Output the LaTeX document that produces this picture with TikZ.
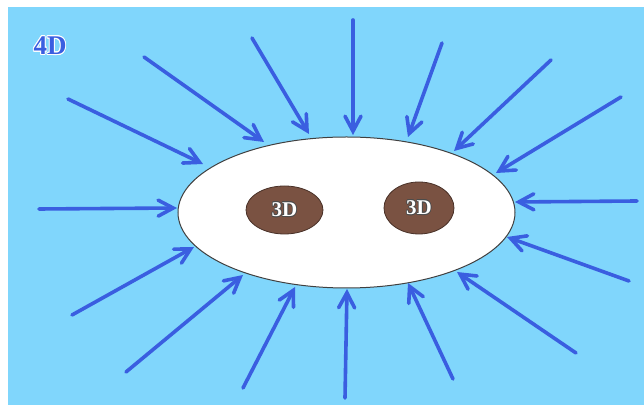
\documentclass[tikz,border=0pt]{standalone}
\usepackage{fontspec}
\setmainfont{Liberation Serif}
\usepackage{contour}
\usetikzlibrary{arrows.meta,shapes.geometric}
\definecolor{skyblue}{RGB}{128,214,252}
\definecolor{arrowblue}{RGB}{58,94,224}
\definecolor{brane}{RGB}{122,82,66}

\begin{document}
\begin{tikzpicture}[x=0.5pt,y=-0.5pt,
	flow/.style={draw=arrowblue,line width=1.8pt,line cap=round,-{Straight Barb[length=7.5pt,width=8pt,line cap=round]}},
	bubble/.style={ellipse,draw=brane!60!black,line width=0.4pt,fill=brane,inner sep=0pt}]
		\useasboundingbox (0,0) rectangle (644,405);
		\fill[skyblue] (8,7) rectangle (644,405);
		\node (bulk) at (50,46) {\fontsize{13.5}{13.5}\selectfont\bfseries\contour{white}{\textcolor{arrowblue}{4D}}};
		% the large 3D region
		\node[ellipse,draw=black!75,line width=0.5pt,fill=white,minimum width=168.5pt,minimum height=75.5pt] (E) at (346.5,212.5) {};
		\node[bubble,minimum width=38.5pt,minimum height=24pt] (L) at (284.5,210) {\fontsize{10.5}{10.5}\selectfont\bfseries\contour{black!70}{\textcolor{white}{3D}}};
		\node[bubble,minimum width=35pt,minimum height=26pt] (R) at (419,208) {\fontsize{10.5}{10.5}\selectfont\bfseries\contour{black!70}{\textcolor{white}{3D}}};
		% arrows from above
		\coordinate (A1) at (68,99);    \coordinate (B1) at (203,164);
		\coordinate (A2) at (144,57);   \coordinate (B2) at (264,142);
		\coordinate (A3) at (252,38);   \coordinate (B3) at (309,134);
		\coordinate (A4) at (353,20);   \coordinate (B4) at (353,135);
		\coordinate (A5) at (442,43);   \coordinate (B5) at (408,137);
		\coordinate (A6) at (551,60);   \coordinate (B6) at (454,151);
		\coordinate (A7) at (621,97);   \coordinate (B7) at (496,173);
		\draw[flow] (A1)--(B1);
		\draw[flow] (A2)--(B2);
		\draw[flow] (A3)--(B3);
		\draw[flow] (A4)--(B4);
		\draw[flow] (A5)--(B5);
		\draw[flow] (A6)--(B6);
		\draw[flow] (A7)--(B7);
		% arrows from the sides
		\coordinate (A8) at (637,201);  \coordinate (B8) at (515,202);
		\coordinate (A9) at (39,209);   \coordinate (B9) at (177,208);
		\draw[flow] (A8)--(B8);
		\draw[flow] (A9)--(B9);
		% arrows from below
		\coordinate (A10) at (72,315);  \coordinate (B10) at (194,247);
		\coordinate (A11) at (126,372); \coordinate (B11) at (243,275);
		\coordinate (A12) at (243,388); \coordinate (B12) at (295,287);
		\coordinate (A13) at (345,398); \coordinate (B13) at (347,289);
		\coordinate (A14) at (453,379); \coordinate (B14) at (408,283);
		\coordinate (A15) at (576,353); \coordinate (B15) at (457,272);
		\coordinate (A16) at (629,281); \coordinate (B16) at (507,237);
		\draw[flow] (A10)--(B10);
		\draw[flow] (A11)--(B11);
		\draw[flow] (A12)--(B12);
		\draw[flow] (A13)--(B13);
		\draw[flow] (A14)--(B14);
		\draw[flow] (A15)--(B15);
		\draw[flow] (A16)--(B16);
\end{tikzpicture}
\end{document}
